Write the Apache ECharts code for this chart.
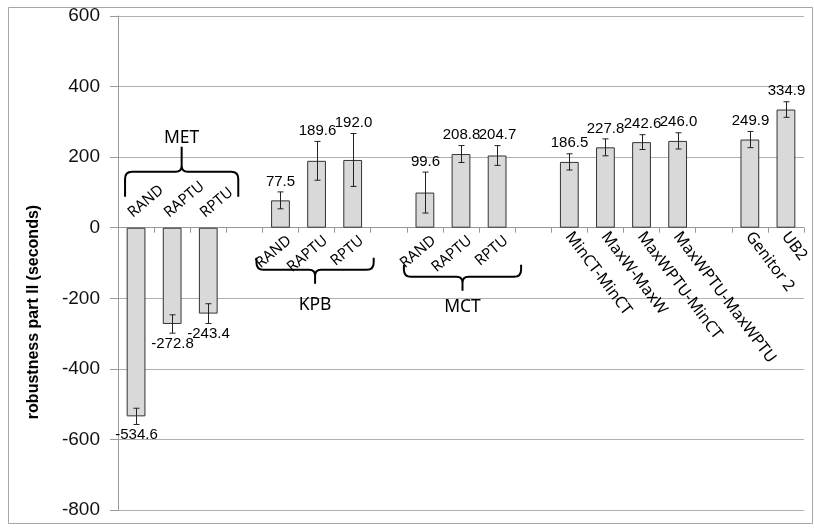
<!DOCTYPE html>
<html><head><meta charset="utf-8">
<script src="https://cdn.jsdelivr.net/npm/echarts@6/dist/echarts.min.js"></script>
<style>html,body{margin:0;padding:0;background:#fff}#c{width:814px;height:529px}</style>
</head><body><div id="c"></div>
<script>
// ---- data ----
const categoryIds = ['MET-RAND','MET-RAPTU','MET-RPTU','gap1','KPB-RAND','KPB-RAPTU','KPB-RPTU','gap2','MCT-RAND','MCT-RAPTU','MCT-RPTU','gap3','MinCT-MinCT','MaxW-MaxW','MaxWPTU-MinCT','MaxWPTU-MaxWPTU','gap4','Genitor 2','UB2'];
const axisLabels = ['','','','','','','','','','','','','MinCT-MinCT','MaxW-MaxW','MaxWPTU-MinCT','MaxWPTU-MaxWPTU','','Genitor 2','UB2'];
const subLabels = ['RAND','RAPTU','RPTU','','RAND','RAPTU','RPTU','','RAND','RAPTU','RPTU','','','','','','','',''];
const values = [-534.6,-272.8,-243.4,null,77.5,189.6,192.0,null,99.6,208.8,204.7,null,186.5,227.8,242.6,246.0,null,249.9,334.9];
const errors = [23,26,28,null,24,55,75,null,58,24,28,null,23,24,21,23,null,23,22];
const groupNames = ['MET','KPB','MCT'];
const groupFirst = [0,4,8];
const groupLast = [2,6,10];
const yMin = -800, yMax = 600, yStep = 200;
const yTitle = 'robustness part II (seconds)';

// ---- styling (pixel offsets relative to the category axis) ----
const braceLayout = [
  {h:-56, end:-31, tip:-81, text:-90, left:-11, right:30},
  {h:42, end:30, tip:56, text:77, left:-24, right:21},
  {h:49, end:37, tip:63, text:79, left:-21, right:24}
];

function renderError(params, api){
  const i = api.value(0), v = api.value(1), e = api.value(2);
  const top = api.coord([i, v + e]), bot = api.coord([i, v - e]);
  const x = Math.round(top[0]) + 0.5, cap = 3;
  const st = {stroke:'#222', lineWidth:1};
  const pos = v >= 0;
  return {type:'group', children:[
    {type:'line', shape:{x1:x, y1:top[1], x2:x, y2:bot[1]}, style:st},
    {type:'line', shape:{x1:x-cap, y1:top[1], x2:x+cap, y2:top[1]}, style:st},
    {type:'line', shape:{x1:x-cap, y1:bot[1], x2:x+cap, y2:bot[1]}, style:st},
    {type:'text', x:x, y: pos ? top[1]-3 : bot[1]+3,
     style:{text:v.toFixed(1), align:'center', verticalAlign: pos ? 'bottom' : 'top',
            fontSize:15, fontFamily:'Liberation Sans', fill:'#000'}}
  ]};
}

function renderSub(params, api){
  const i = api.value(0);
  const p = api.coord([i, 0]);
  const neg = values[i] < 0;
  return {type:'text', x: neg ? p[0]-6 : p[0]+9, y: neg ? p[1]-13 : p[1]+11,
    rotation: 40*Math.PI/180,
    style:{text: subLabels[i], align: neg ? 'left' : 'right', verticalAlign:'middle',
           fontSize:15, fontFamily:'Noto Sans', fill:'#000'}};
}

function renderAxisLabel(params, api){
  const i = api.value(0);
  const p = api.coord([i, 0]);
  return {type:'text', x: p[0]-1, y: p[1]+6,
    rotation: -53*Math.PI/180,
    style:{text: axisLabels[i], align:'left', verticalAlign:'middle',
           fontSize:16, fontFamily:'Noto Sans', fill:'#000'}};
}

function renderGroup(params, api){
  const k = api.value(2);
  const L = braceLayout[k];
  const a = api.coord([api.value(0), 0]), b = api.coord([api.value(1), 0]);
  const ax = a[1];
  const x0 = a[0] + L.left, x1 = b[0] + L.right, xm = (x0 + x1) / 2;
  const h = ax + L.h, e = ax + L.end, t = ax + L.tip;
  const se = Math.sign(e - h), stp = Math.sign(t - h);
  const r = 7, rc = 6;
  const d = `M${x0} ${e} L${x0} ${h+se*r} Q${x0} ${h} ${x0+r} ${h} L${xm-rc} ${h} Q${xm} ${h} ${xm} ${h+stp*rc} L${xm} ${t} ` +
            `M${xm} ${h+stp*rc} Q${xm} ${h} ${xm+rc} ${h} L${x1-r} ${h} Q${x1} ${h} ${x1} ${h+se*r} L${x1} ${e}`;
  return {type:'group', children:[
    {type:'path', shape:{pathData:d}, style:{fill:null, stroke:'#000', lineWidth:2}},
    {type:'text', x:xm, y:ax + L.text,
     style:{text: groupNames[k], align:'center', verticalAlign:'middle', fontSize:17.5, fontFamily:'Noto Sans', fill:'#000'}}
  ]};
}

const chart = echarts.init(document.getElementById('c'), null, {renderer:'canvas'});
chart.setOption({
  animation:false,
  backgroundColor:'#fff',
  grid:{left:118, right:10, top:16, bottom:19, containLabel:false, outerBoundsMode:'none'},
  xAxis:{
    type:'category', data:categoryIds,
    axisLine:{onZero:true, lineStyle:{color:'#999', width:1}},
    axisTick:{show:true, length:5, interval:0, lineStyle:{color:'#999'}},
    axisLabel:{show:false},
    splitLine:{show:false}
  },
  yAxis:{
    type:'value', min:yMin, max:yMax, interval:yStep,
    axisLine:{show:true, lineStyle:{color:'#999'}},
    axisTick:{show:true, length:8, lineStyle:{color:'#999'}},
    axisLabel:{fontSize:19, fontFamily:'Liberation Sans', color:'#111', margin:18},
    splitLine:{lineStyle:{color:'#b0b0b0', width:1}}
  },
  graphic:[
    {type:'rect', silent:true, z:-10, shape:{x:8.5, y:7.5, width:804, height:516}, style:{fill:null, stroke:'#a6a6a6', lineWidth:1}},
    {type:'text', silent:true, x:34, y:312, rotation:Math.PI/2,
     style:{text:yTitle, align:'center', verticalAlign:'middle', fontSize:16, fontWeight:'bold', fontFamily:'Liberation Sans', fill:'#000'}}
  ],
  series:[
    {type:'bar', data:values, barWidth:'52%',
     itemStyle:{color:'#d9d9d9', borderColor:'#333', borderWidth:1}, z:2},
    {type:'custom', z:5, renderItem:renderError,
     data: values.map((v,i) => v == null ? null : [i, v, errors[i]]).filter(Boolean)},
    {type:'custom', z:5, renderItem:renderSub,
     data: subLabels.map((s,i) => s ? [i, 0] : null).filter(Boolean)},
    {type:'custom', z:5, renderItem:renderAxisLabel,
     data: axisLabels.map((s,i) => s ? [i, 0] : null).filter(Boolean)},
    {type:'custom', z:5, renderItem:renderGroup,
     data: groupNames.map((g,k) => [groupFirst[k], groupLast[k], k])}
  ]
});
</script></body></html>
